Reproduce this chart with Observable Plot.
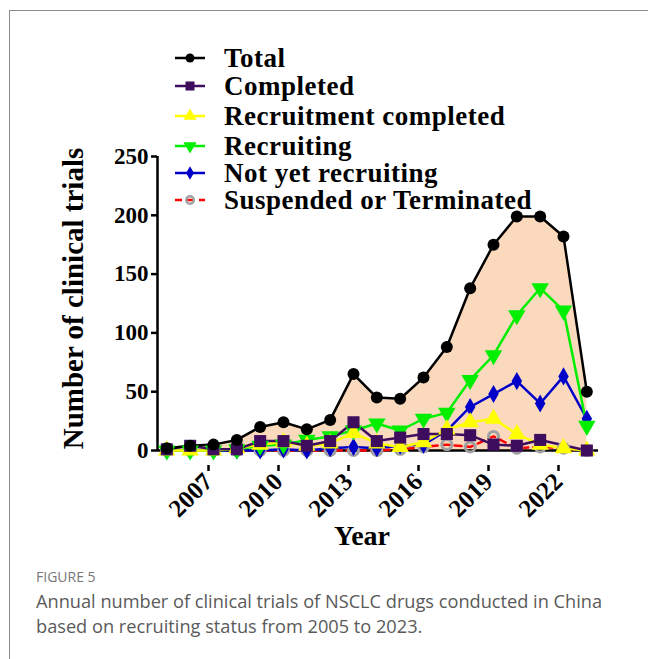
<!DOCTYPE html>
<html>
<head>
<meta charset="utf-8">
<script src="https://cdn.jsdelivr.net/npm/d3@7"></script>
<script src="https://cdn.jsdelivr.net/npm/@observablehq/plot@0.6"></script>
<style>
  body { margin: 0; background: #fff; }
  #wrap { position: relative; width: 648px; height: 659px; overflow: hidden; background: #fff; }
  #frame { position: absolute; left: 9px; top: 10px; width: 720px; height: 720px; border: 1px solid #8a8a8a; box-sizing: border-box; }
  #chart { position: absolute; left: 0; top: 0; }
  #legend { position: absolute; left: 0; top: 0; font-family: "Liberation Serif", "Times New Roman", serif; font-weight: bold; font-size: 27px; letter-spacing: 0.5px; color: #000; }
  .row { position: absolute; left: 174px; height: 28px; display: flex; align-items: center; white-space: nowrap; }
  .row svg { margin-right: 18px; }
  #caption { position: absolute; left: 36px; top: 567px; font-family: "Open Sans", Lato, sans-serif; color: #5a5a5a; }
  #caption .fig { font-size: 14px; color: #777; margin-bottom: 3px; }
  #caption .txt { font-size: 18.2px; line-height: 25px; }
</style>
</head>
<body>
<div id="wrap">
  <div id="frame"></div>
  <div id="chart"></div>
  <div id="legend"></div>
  <div id="caption">
    <div class="fig">FIGURE 5</div>
    <div class="txt">Annual number of clinical trials of NSCLC drugs conducted in China<br>based on recruiting status from 2005 to 2023.</div>
  </div>
</div>
<script>
// ---- data ----
const years = [2005, 2006, 2007, 2008, 2009, 2010, 2011, 2012, 2013, 2014, 2015, 2016, 2017, 2018, 2019, 2020, 2021, 2022, 2023];
const total = [2, 4, 5, 9, 20, 24, 18, 26, 65, 45, 44, 62, 88, 138, 175, 199, 199, 182, 50];
const completed = [1, 4, 1, 1, 8, 8, 4, 8, 24, 8, 11, 14, 14, 13, 5, 4, 9, null, 0];
const recruitmentCompleted = [0, 0, 0, 2, 5, 7, 4, 6, 15, 6, 3, 7, 18, 24, 27, 14, 5, 2, 0];
const recruiting = [0, 0, 0, 1, 4, 5, 9, 12, 17, 23, 17, 27, 32, 60, 81, 115, 138, 119, 21];
const notYetRecruiting = [0, 0, 0, 0, 0, 1, 0, 2, 3, 2, 4, 5, 17, 37, 48, 59, 40, 63, 27];
const suspendedTerminated = [0, 0, 0, 0, 0, 0, 0, 0, 0, 0, 1, 3, 5, 3, 12, 2, 3, 2, 0];
const seriesNames = ["Total", "Completed", "Recruitment completed", "Recruiting", "Not yet recruiting", "Suspended or Terminated"];
const xTicks = [2007, 2010, 2013, 2016, 2019, 2022];
const yTicks = [0, 50, 100, 150, 200, 250];
const yTitle = "Number of clinical trials";
const xTitle = "Year";

// ---- build rows ----
const totalRows = years.map((year, i) => ({year, value: total[i]}));
const mk = arr => years.map((year, i) => ({year, value: arr[i]})).filter(d => d.value != null);

const triangleDown = {
  draw(context, size) {
    const s3 = Math.sqrt(3);
    const y = -Math.sqrt(size / (s3 * 3));
    context.moveTo(0, -y * 2);
    context.lineTo(-s3 * y, y);
    context.lineTo(s3 * y, y);
    context.closePath();
  }
};

const styles = [
  {name: seriesNames[5], data: mk(suspendedTerminated), color: "#ff0000", dash: "7,5", symbol: "circle", r: 5, fill: "none", mstroke: "#a0a0a0", msw: 3},
  {name: seriesNames[4], data: mk(notYetRecruiting), color: "#0000c8", symbol: "diamond", r: 5.5, fill: "#0000c8"},
  {name: seriesNames[3], data: mk(recruiting), color: "#00ee00", symbol: triangleDown, r: 6.5, fill: "#00ee00"},
  {name: seriesNames[2], data: mk(recruitmentCompleted), color: "#ffff00", symbol: "triangle", r: 6.5, fill: "#ffff00"},
  {name: seriesNames[1], data: mk(completed), color: "#3e0d5e", symbol: "square", r: 6.8, fill: "#3e0d5e"},
  {name: seriesNames[0], data: mk(total), color: "#000000", symbol: "circle", r: 6, fill: "#000000"}
];

const marks = [
  Plot.areaY(totalRows, {x: "year", y: "value", fill: "#fbd9bc", curve: "linear"}),
  Plot.ruleY([0], {stroke: "#000", strokeWidth: 2.5}),
  Plot.ruleX([2004.6], {stroke: "#000", strokeWidth: 2.5}),
  Plot.axisY({ticks: yTicks, tickSize: 6, tickPadding: 3, tickFormat: d => String(d), label: null, strokeWidth: 2.5}),
  Plot.axisX({ticks: xTicks, tickSize: 6, tickPadding: 6, tickRotate: -45, tickFormat: d => String(d), label: null, strokeWidth: 2.5, fontSize: 25, dy: 15, dx: -5}),
  Plot.text([yTitle], {frameAnchor: "left", textAnchor: "middle", dx: -84, dy: -5, rotate: -90, fontSize: 29, fontWeight: "bold", fill: "#000"}),
  Plot.text([xTitle], {frameAnchor: "bottom", textAnchor: "middle", dx: -16, dy: 94, fontSize: 28, fontWeight: "bold", fill: "#000"})
];
for (const s of styles) {
  marks.push(Plot.line(s.data, {x: "year", y: "value", stroke: s.color, strokeWidth: 2.5, strokeDasharray: s.dash || null}));
}
for (const s of styles) {
  marks.push(Plot.dot(s.data, {x: "year", y: "value", symbol: () => s.symbol, r: s.r, fill: s.fill, stroke: s.mstroke || "none", strokeWidth: s.msw || 0}));
}

const chart = Plot.plot({
  width: 648,
  height: 560,
  marginTop: 156,
  marginLeft: 157,
  marginRight: 50,
  marginBottom: 110,
  style: {fontFamily: "'Liberation Serif', 'Times New Roman', serif", fontWeight: "bold", fontSize: "23px", color: "#000", background: "transparent", overflow: "visible"},
  x: {type: "linear", domain: [2004.6, 2023.5]},
  y: {domain: [0, 250]},
  symbol: {type: "identity"},
  marks
});
document.getElementById("chart").appendChild(chart);

// ---- legend ----
const legend = document.getElementById("legend");
const legendOrder = [5, 4, 3, 2, 1, 0];
const legendY = [44, 72, 102, 132, 159, 186];
legendOrder.forEach((idx, k) => {
  const s = styles[idx];
  const row = document.createElement("div");
  row.className = "row";
  row.style.top = legendY[k] + "px";
  const svg = d3.create("svg").attr("width", 32).attr("height", 20);
  svg.append("line").attr("x1", 1).attr("x2", 31).attr("y1", 10).attr("y2", 10)
    .attr("stroke", s.color).attr("stroke-width", 2.5).attr("stroke-dasharray", s.dash || null);
  const sym = typeof s.symbol === "string"
    ? {circle: d3.symbolCircle, square: d3.symbolSquare, triangle: d3.symbolTriangle, diamond: d3.symbolDiamond}[s.symbol]
    : s.symbol;
  const rr = s.r * 0.75;
  svg.append("path").attr("transform", "translate(16,10)")
    .attr("d", d3.symbol(sym, Math.PI * rr * rr)())
    .attr("fill", s.fill).attr("stroke", s.mstroke || "none").attr("stroke-width", s.msw ? 2.5 : 0);
  row.appendChild(svg.node());
  const span = document.createElement("span");
  span.textContent = s.name;
  row.appendChild(span);
  legend.appendChild(row);
});
</script>
</body>
</html>
